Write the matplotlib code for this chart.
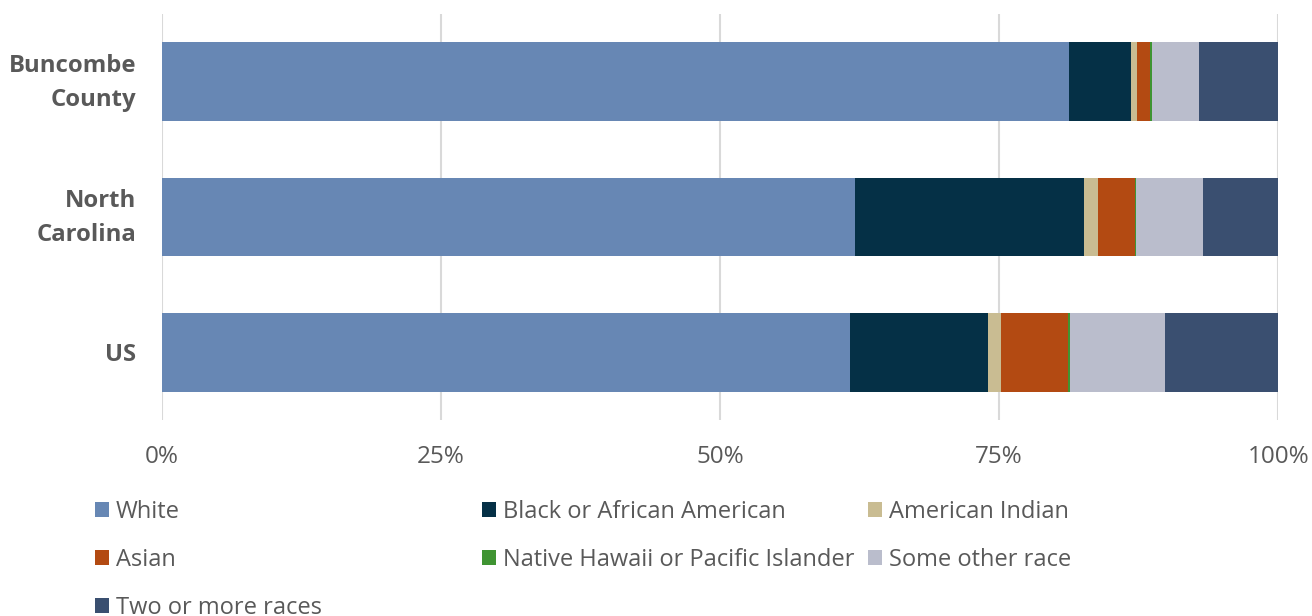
import matplotlib
matplotlib.use("Agg")
import matplotlib.pyplot as plt
import matplotlib.transforms as mtransforms
from matplotlib.patches import Patch

plt.rcParams['font.family'] = ['Open Sans', 'DejaVu Sans']

regions = ["Buncombe\nCounty", "North\nCarolina", "US"]
races = ["White", "Black or African American", "American Indian", "Asian",
         "Native Hawaii or Pacific Islander", "Some other race", "Two or more races"]
white = [81.2, 62.1, 61.6]
black = [5.6, 20.5, 12.4]
am_indian = [0.5, 1.25, 1.15]
asian = [1.2, 3.3, 6.0]
nh_pi = [0.15, 0.1, 0.15]
other = [4.2, 5.95, 8.5]
two_more = [7.15, 6.8, 10.2]
series = [white, black, am_indian, asian, nh_pi, other, two_more]
colors = ["#6787B4", "#053046", "#C9BC92", "#B34A12", "#3F9432", "#BABDCC", "#3A4F70"]
xticks = [0, 25, 50, 75, 100]
xtick_labels = ["0%", "25%", "50%", "75%", "100%"]

W, H = 1312, 616
fig = plt.figure(figsize=(W / 100, H / 100), dpi=100)
ax = fig.add_axes([161.5 / W, 1 - 420 / H, (1278.5 - 161.5) / W, (420 - 14) / H])

text_color = "#595959"
ypos = list(range(len(regions)))
left = [0.0] * len(regions)
handles = []
for vals, c, name in zip(series, colors, races):
    ax.barh(ypos, vals, left=left, height=0.58, color=c, edgecolor='none', zorder=3)
    left = [l + v for l, v in zip(left, vals)]
    handles.append(Patch(facecolor=c, edgecolor='none', label=name))

ax.set_xlim(0, 100)
ax.set_ylim(2.5, -0.5)
ax.set_xticks(xticks)
ax.set_xticklabels(xtick_labels)
ax.set_yticks(ypos)
ax.set_yticklabels(regions, fontweight='bold', linespacing=1.55)
ax.tick_params(axis='x', length=0, pad=18, labelsize=17.5, labelcolor=text_color)
ax.tick_params(axis='y', length=0, pad=18, labelsize=17.2, labelcolor=text_color)
ax.xaxis.grid(True, color="#D9D9D9", linewidth=1.5, zorder=0)
ax.yaxis.grid(False)
for s in ax.spines.values():
    s.set_visible(False)

# nudge two-line labels up so their visual centre matches the bar centre
shift = mtransforms.ScaledTranslation(0, 4.8 / 72, fig.dpi_scale_trans)
for lab in ax.get_yticklabels():
    if "\n" in lab.get_text():
        lab.set_transform(lab.get_transform() + shift)

# legend: three fixed-width columns, three rows
col_x = [95, 482, 868]
row_y = [510, 558, 606]
order = [(0, 0), (1, 0), (2, 0), (0, 1), (1, 1), (2, 1), (0, 2)]
fs = 17
fs_px = fs * 100 / 72
for h, (ci, ri) in zip(handles, order):
    fig.legend(handles=[h], loc='center left',
               bbox_to_anchor=(col_x[ci] / W, 1 - (row_y[ri] + 2) / H),
               frameon=False, fontsize=fs, labelcolor=text_color,
               borderpad=0, borderaxespad=0,
               handlelength=14 / fs_px, handleheight=14 / fs_px,
               handletextpad=7 / fs_px)

fig.savefig("out.png", dpi=100)
